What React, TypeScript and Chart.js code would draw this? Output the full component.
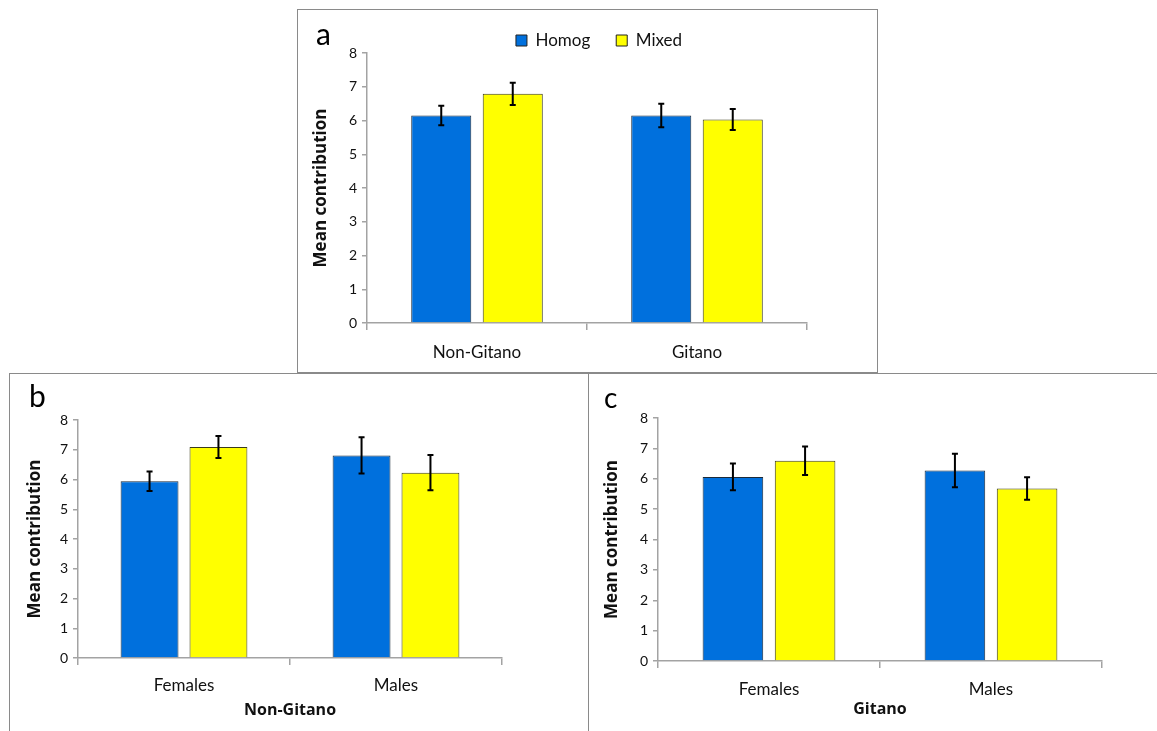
import React, { useEffect, useRef } from "react";
import { Chart, registerables } from "chart.js";

Chart.register(...registerables);

// ---------- data ----------
const seriesNames = ["Homog", "Mixed"];
const seriesColors = ["#0070DD", "#FFFF00"];
const yTickValues = [0, 1, 2, 3, 4, 5, 6, 7, 8];

const aCategories = ["Non-Gitano", "Gitano"];
const aHomog = [6.15, 6.15];
const aHomogErr = [0.29, 0.35];
const aMixed = [6.79, 6.03];
const aMixedErr = [0.33, 0.31];

const bCategories = ["Females", "Males"];
const bTitle = "Non-Gitano";
const bHomog = [5.94, 6.81];
const bHomogErr = [0.33, 0.61];
const bMixed = [7.09, 6.23];
const bMixedErr = [0.37, 0.59];

const cCategories = ["Females", "Males"];
const cTitle = "Gitano";
const cHomog = [6.06, 6.27];
const cHomogErr = [0.44, 0.55];
const cMixed = [6.59, 5.68];
const cMixedErr = [0.47, 0.37];

const FONT = "Lato";
const BOLD_FONT = "'Open Sans'";
const AXIS_COLOR = "#a3a3a3";
const TEXT_COLOR = "#111111";

// ---------- plugins ----------
const errorBarPlugin = {
  id: "errorBars",
  afterDatasetsDraw(chart: any) {
    const { ctx } = chart;
    const yScale = chart.scales.y;
    chart.data.datasets.forEach((ds: any, i: number) => {
      const meta = chart.getDatasetMeta(i);
      const errs: number[] = ds.errors || [];
      meta.data.forEach((bar: any, j: number) => {
        const v = ds.data[j];
        const e = errs[j];
        if (e == null) return;
        const x = bar.x;
        const top = yScale.getPixelForValue(v + e);
        const bot = yScale.getPixelForValue(v - e);
        ctx.save();
        ctx.strokeStyle = "#000";
        ctx.lineWidth = 2;
        ctx.beginPath();
        ctx.moveTo(x, top);
        ctx.lineTo(x, bot);
        ctx.moveTo(x - 3, top);
        ctx.lineTo(x + 3, top);
        ctx.moveTo(x - 3, bot);
        ctx.lineTo(x + 3, bot);
        ctx.stroke();
        ctx.restore();
      });
    });
  },
};

const panelLetterPlugin = {
  id: "panelLetter",
  afterDraw(chart: any, _args: any, opts: any) {
    if (!opts || !opts.text) return;
    const { ctx } = chart;
    ctx.save();
    ctx.font = `${opts.size}px ${FONT}`;
    ctx.fillStyle = "#000";
    ctx.textBaseline = "alphabetic";
    ctx.textAlign = "left";
    ctx.fillText(opts.text, opts.x, opts.y);
    ctx.restore();
  },
};

const legendShiftPlugin = {
  id: "legendShift",
  afterLayout(chart: any, _args: any, opts: any) {
    if (chart.legend && opts && opts.dx) {
      chart.legend.left += opts.dx;
      chart.legend.right += opts.dx;
    }
  },
};

// ---------- config builder ----------
interface PanelSpec {
  categories: string[];
  homog: number[];
  homogErr: number[];
  mixed: number[];
  mixedErr: number[];
  xTitle?: string;
  letter: string;
  letterX: number;
  letterY: number;
  letterSize: number;
  legend: boolean;
  padding: { top: number; left: number; right: number; bottom: number };
  yWidth: number;
  yTitlePad: number;
  xHeight: number;
  xTickPad: number;
  xTitlePad: number;
  legendDx: number;
  legendMaxHeight: number;
}

function buildConfig(p: PanelSpec): any {
  return {
    type: "bar",
    data: {
      labels: p.categories,
      datasets: [
        {
          label: seriesNames[0],
          data: p.homog,
          errors: p.homogErr,
          backgroundColor: seriesColors[0],
          borderColor: "#1b2a3a",
          borderWidth: 1,
          categoryPercentage: 0.65,
          barPercentage: 0.84,
        },
        {
          label: seriesNames[1],
          data: p.mixed,
          errors: p.mixedErr,
          backgroundColor: seriesColors[1],
          borderColor: "#3a3a1b",
          borderWidth: 1,
          categoryPercentage: 0.65,
          barPercentage: 0.84,
        },
      ],
    },
    plugins: [errorBarPlugin, panelLetterPlugin, legendShiftPlugin],
    options: {
      responsive: false,
      animation: false,
      devicePixelRatio: 1,
      layout: { padding: p.padding },
      plugins: {
        legend: {
          display: p.legend,
          position: "top",
          maxHeight: p.legendMaxHeight,
          labels: {
            boxWidth: 11,
            boxHeight: 11,
            padding: 26,
            color: TEXT_COLOR,
            font: { family: FONT, size: 17 },
            generateLabels: (chart: any) =>
              chart.data.datasets.map((ds: any, i: number) => ({
                text: ds.label,
                fillStyle: ds.backgroundColor,
                strokeStyle: "#222",
                lineWidth: 1,
                hidden: false,
                datasetIndex: i,
                fontColor: TEXT_COLOR,
              })),
          },
        },
        tooltip: { enabled: false },
        title: { display: false },
        panelLetter: { text: p.letter, x: p.letterX, y: p.letterY, size: p.letterSize },
        legendShift: { dx: p.legendDx },
      },
      scales: {
        x: {
          type: "category",
          afterFit: (s: any) => {
            s.height = p.xHeight;
          },
          grid: {
            offset: true,
            drawOnChartArea: false,
            drawTicks: true,
            tickLength: 7,
            color: AXIS_COLOR,
            lineWidth: 1.5,
          },
          border: { display: true, color: AXIS_COLOR, width: 1.5 },
          ticks: {
            color: TEXT_COLOR,
            padding: p.xTickPad,
            font: { family: FONT, size: 17 },
            maxRotation: 0,
          },
          title: {
            display: !!p.xTitle,
            text: p.xTitle || "",
            color: TEXT_COLOR,
            font: { family: BOLD_FONT, size: 16, weight: "bold" },
            padding: { top: 0, bottom: p.xTitlePad },
          },
        },
        y: {
          type: "linear",
          min: 0,
          max: 8,
          afterFit: (s: any) => {
            s.width = p.yWidth;
          },
          afterBuildTicks: (s: any) => {
            s.ticks = yTickValues.map((v) => ({ value: v }));
          },
          grid: {
            drawOnChartArea: false,
            drawTicks: true,
            tickLength: 5,
            color: AXIS_COLOR,
            lineWidth: 1.5,
          },
          border: { display: true, color: AXIS_COLOR, width: 1.5 },
          ticks: {
            color: TEXT_COLOR,
            padding: 5,
            font: { family: FONT, size: 14 },
          },
          title: {
            display: true,
            text: "Mean contribution",
            color: TEXT_COLOR,
            font: { family: BOLD_FONT, size: 17, weight: "bold" },
            padding: { top: p.yTitlePad, bottom: 0 },
          },
        },
      },
    },
  };
}

// ---------- components ----------
function BarPanel({
  spec,
  left,
  top,
  width,
  height,
}: {
  spec: PanelSpec;
  left: number;
  top: number;
  width: number;
  height: number;
}) {
  const ref = useRef<HTMLCanvasElement | null>(null);
  useEffect(() => {
    if (!ref.current) return;
    const chart = new Chart(ref.current, buildConfig(spec));
    return () => chart.destroy();
  }, []);
  return (
    <div style={{ position: "absolute", left, top, width, height }}>
      <canvas ref={ref} width={width} height={height} style={{ display: "block", width, height }} />
    </div>
  );
}

const specA: PanelSpec = {
  categories: aCategories,
  homog: aHomog,
  homogErr: aHomogErr,
  mixed: aMixed,
  mixedErr: aMixedErr,
  letter: "a",
  letterX: 18,
  letterY: 35,
  letterSize: 30,
  legend: true,
  padding: { top: -4, left: 11, right: 70, bottom: 0 },
  yWidth: 58,
  yTitlePad: 2,
  xHeight: 48,
  xTickPad: 12,
  xTitlePad: 0,
  legendDx: 41,
  legendMaxHeight: 47,
};

const specB: PanelSpec = {
  categories: bCategories,
  homog: bHomog,
  homogErr: bHomogErr,
  mixed: bMixed,
  mixedErr: bMixedErr,
  xTitle: bTitle,
  letter: "b",
  letterX: 19,
  letterY: 33,
  letterSize: 30,
  legend: false,
  padding: { top: 46, left: 14, right: 86, bottom: 0 },
  yWidth: 54,
  yTitlePad: 1,
  xHeight: 73,
  xTickPad: 10,
  xTitlePad: 11,
  legendDx: 0,
  legendMaxHeight: 0,
};

const specC: PanelSpec = {
  categories: cCategories,
  homog: cHomog,
  homogErr: cHomogErr,
  mixed: cMixed,
  mixedErr: cMixedErr,
  xTitle: cTitle,
  letter: "c",
  letterX: 15,
  letterY: 34,
  letterSize: 28,
  legend: false,
  padding: { top: 44, left: 12, right: 55, bottom: 0 },
  yWidth: 57,
  yTitlePad: 1,
  xHeight: 70,
  xTickPad: 11,
  xTitlePad: 12,
  legendDx: 0,
  legendMaxHeight: 0,
};

const frameStyle = (left: number, top: number, width: number, height: number): React.CSSProperties => ({
  position: "absolute",
  left,
  top,
  width,
  height,
  border: "1px solid #8a8a8a",
  boxSizing: "border-box",
});

export default function App() {
  return (
    <div
      style={{
        position: "fixed",
        left: 0,
        top: 0,
        width: 1157,
        height: 731,
        overflow: "hidden",
        background: "#ffffff",
      }}
    >
      <div style={frameStyle(297, 9, 581, 364)} />
      <div style={frameStyle(9, 373, 580, 400)} />
      <div style={frameStyle(588, 373, 600, 400)} />
      <BarPanel spec={specA} left={298} top={10} width={579} height={361} />
      <BarPanel spec={specB} left={10} top={374} width={578} height={357} />
      <BarPanel spec={specC} left={589} top={374} width={568} height={357} />
    </div>
  );
}
